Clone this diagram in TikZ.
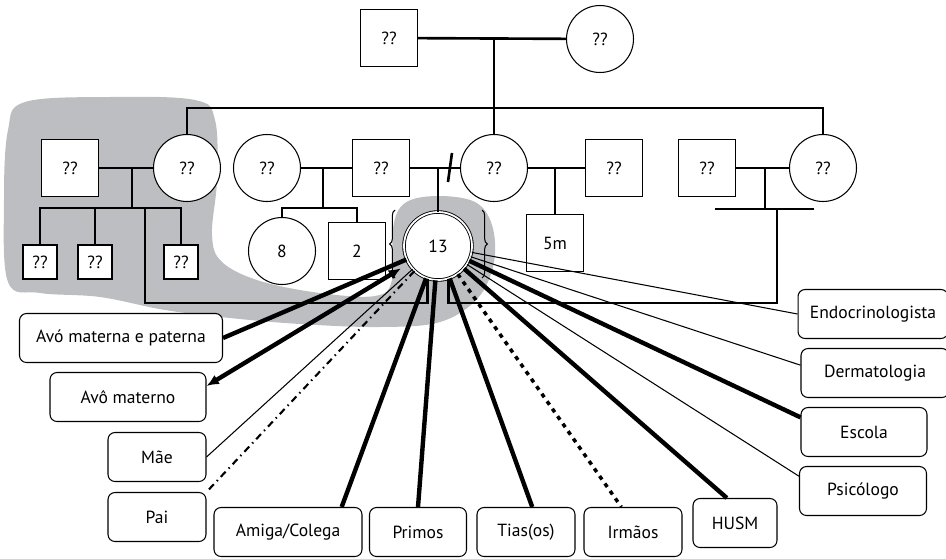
\documentclass[tikz,border=0pt]{standalone}
\usepackage{fontspec}
\setmainfont{PT Sans}
\usetikzlibrary{decorations.pathreplacing,arrows.meta}
\definecolor{ecogray}{RGB}{189, 190, 194}

\begin{document}
\begin{tikzpicture}[x=0.02cm, y=-0.02cm,
        every node/.style={font=\fontsize{10}{12}\selectfont},
        male/.style={draw, line width=0.6pt, fill=white, minimum size=1.14cm, inner sep=0pt},
        female/.style={draw, circle, line width=0.6pt, fill=white, minimum size=1.34cm, inner sep=0pt},
        child/.style={male, minimum size=0.68cm},
        index/.style={draw, circle, double, double distance=1pt, line width=0.5pt, fill=white, minimum size=1.36cm, inner sep=0pt},
        tag/.style={draw, rounded corners=4pt, line width=0.6pt, fill=white, minimum height=0.98cm, inner sep=0pt},
        bond/.style={line width=1.5pt},
        weak/.style={line width=0.6pt},
        strong/.style={line width=2.5pt},
        distant/.style={line width=2pt, dash pattern=on 2.4pt off 2.8pt},
        tense/.style={line width=1.2pt, dash pattern=on 4pt off 2.5pt on 0.8pt off 2.5pt},
        curly/.style={line width=0.6pt, decorate, decoration={brace, amplitude=3pt}}]
    \useasboundingbox (0,0) rectangle (946,558);

    % shaded household
    \fill[ecogray] plot[smooth cycle, tension=0.6] coordinates {
        (8,130) (25,102) (110,97) (195,100) (215,120) (217,180) (212,235) (222,262)
        (260,281) (320,293) (375,296) (392,280) (393,228) (405,203) (437,196) (475,202)
        (492,225) (494,262) (478,298) (440,322) (380,327) (300,324) (230,318) (165,310)
        (100,297) (40,293) (8,282) (4,200)};

    % genogram
    \node[male]   (gfa) at (389, 38) {??};
    \node[female] (gmo) at (600, 39) {??};
    \node[male]   (unA) at ( 70,168) {??};
    \node[female] (auA) at (187,168) {??};
    \node[female] (exW) at (267,168) {??};
    \node[male]   (dad) at (381,168) {??};
    \node[female] (mom) at (494,168) {??};
    \node[male]   (stp) at (614,168) {??};
    \node[male]   (unB) at (707,168) {??};
    \node[female] (auB) at (823,168) {??};
    \node[child]  (cz1) at ( 40,262) {??};
    \node[child]  (cz2) at ( 95,262) {??};
    \node[child]  (cz3) at (181,262) {??};
    \node[female] (sis) at (282,251) {8};
    \node[male]   (bro) at (357,251) {2};
    \node[index]  (me)  at (438,246) {13};
    \node[male]   (hbr) at (555,243) {5m};

    \coordinate (sibA) at (132,208);
    \coordinate (sibB) at (323,208);
    \coordinate (barB) at (765,209);
    \coordinate (home) at (145,208);
    \coordinate (hold) at (777,303);

    \draw[bond] (gfa) -- (gmo);
    \draw[bond] (gfa -| mom) -- (mom.north);
    \draw[bond] (auA.north) -- ++(0,-26) -| (auB.north);
    \draw[bond] (unA) -- (auA);
    \draw[bond] (sibA |- unA) -- (sibA);
    \draw[bond] (cz1.north) |- (cz3.north |- sibA) -- (cz3.north);
    \draw[bond] (cz2.north) -- (cz2 |- sibA);
    \draw[bond] (exW) -- (dad);
    \draw[bond] (sibB |- dad) -- (sibB);
    \draw[bond] (sis.north) |- (bro.north |- sibB) -- (bro.north);
    \draw[bond] (dad) -- (mom);
    \draw[bond] (mom.west) ++(-8,-15) -- ++(-4,29);
    \draw[bond] (me.north |- dad) -- (me.north);
    \draw[bond] (mom) -- (stp);
    \draw[bond] (hbr.north |- mom) -- (hbr.north);
    \draw[bond] (unB) -- (auB);
    \draw[bond] (barB |- unB) -- (barB);
    \draw[bond] (barB) ++(-50,0) -- ++(99,0);
    \draw[bond] (home) |- (hold -| me.252) -- (me.252);
    \draw[bond] (me.288) |- (hold) -- (hold |- barB);

    \draw[curly] (395,278) -- (395,210);
    \draw[curly] (482,210) -- (482,278);

    % ecomap
    \node[tag, minimum width=4.06cm] (avos)   at (121,338) {Avó materna e paterna};
    \node[tag, minimum width=3.12cm] (avo)    at (128,397) {Avô materno};
    \node[tag, minimum width=1.96cm] (mae)    at (157,457) {Mãe};
    \node[tag, minimum width=1.96cm] (pai)    at (157,517) {Pai};
    \node[tag, minimum width=2.96cm] (amiga)  at (288,532) {Amiga/Colega};
    \node[tag, minimum width=1.94cm] (primos) at (418,532) {Primos};
    \node[tag, minimum width=1.96cm] (tias)   at (526,532) {Tias(os)};
    \node[tag, minimum width=1.96cm] (irmaos) at (633,532) {Irmãos};
    \node[tag, minimum width=1.68cm] (husm)   at (735,523) {HUSM};
    \node[tag, minimum width=2.54cm] (psico)  at (863,491) {Psicólogo};
    \node[tag, minimum width=2.52cm] (escola) at (864,432) {Escola};
    \node[tag, minimum width=2.96cm] (derma)  at (875,373) {Dermatologia};
    \node[tag, minimum width=3.00cm] (endo)   at (873,314) {Endocrinologista};

    \draw[strong]  (me) -- (avos.east);
    \draw[strong, {Latex[length=7pt,width=6pt]}-{Latex[length=7pt,width=6pt]}, shorten <=5pt] (me) -- (avo.8);
    \draw[weak]    (me) -- (mae.east);
    \draw[tense]   (me) -- (pai.north east);
    \draw[strong]  (me) -- (amiga.25);
    \draw[strong]  (me) -- (primos.north);
    \draw[strong]  (me) -- (tias.76);
    \draw[distant] (me) -- (irmaos.115);
    \draw[strong]  (me) -- (husm.108);
    \draw[weak]    (me) -- (psico.167);
    \draw[strong]  (me) -- (escola.167);
    \draw[weak]    (me) -- (derma.174);
    \draw[weak]    (me) -- (endo.west);
\end{tikzpicture}
\end{document}
